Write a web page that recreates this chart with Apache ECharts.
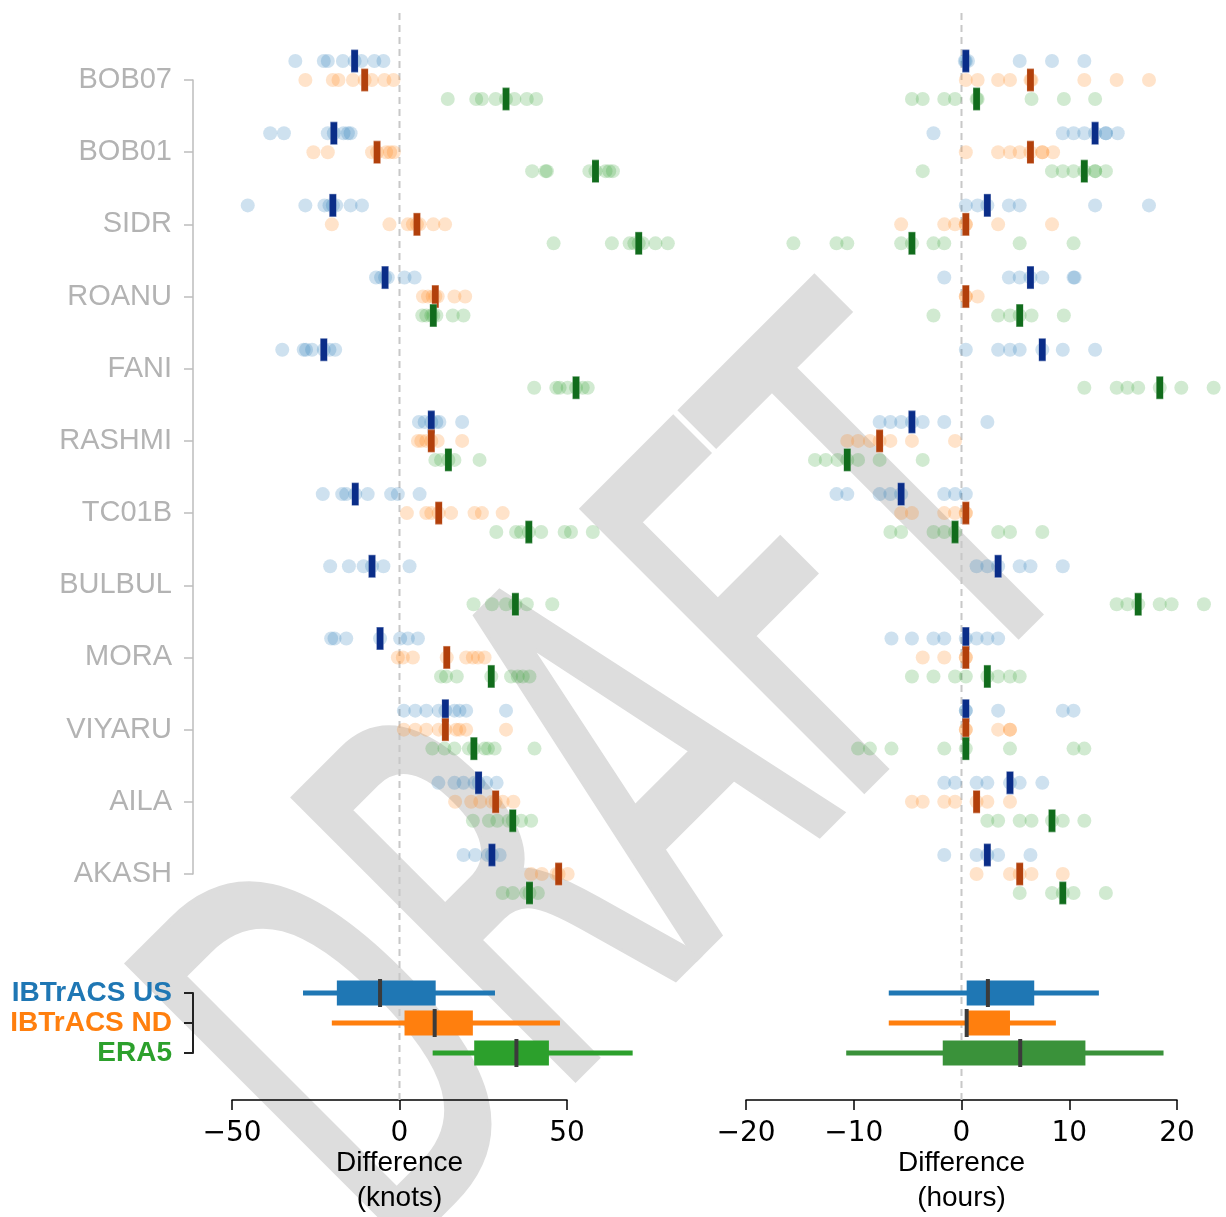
<!DOCTYPE html>
<html>
<head>
<meta charset="utf-8">
<script src="https://cdn.jsdelivr.net/npm/echarts@6/dist/echarts.min.js"></script>
<style>
  html, body { margin: 0; padding: 0; background: #ffffff; }
  #chart { width: 1226px; height: 1217px; }
</style>
</head>
<body>
<div id="chart"></div>
<script>
// Storms (rows, top to bottom) and data sources
const storms = ['BOB07', 'BOB01', 'SIDR', 'ROANU', 'FANI', 'RASHMI', 'TC01B', 'BULBUL', 'MORA', 'VIYARU', 'AILA', 'AKASH'];
const sources = ['IBTrACS US', 'IBTrACS ND', 'ERA5'];

// Intensity difference (knots), one list per storm
const windUS = [
  [-31.1, -22.6, -21.4, -16.9, -13.4, -11.4, -7.5, -4.8],
  [-38.6, -34.5, -21.4, -19.6, -16.7, -15.4, -14.6],
  [-45.3, -28.1, -22.4, -20.9, -19.9, -18.9, -14.6, -11.2],
  [-7.0, -5.5, -4.3, -3.5, 1.5, 4.5],
  [-35.0, -28.6, -27.9, -26.1, -22.6, -20.9, -19.2],
  [5.8, 7.5, 9.5, 11.0, 11.9, 18.7],
  [-22.9, -17.1, -15.9, -13.2, -9.5, -2.5, -0.5, 6.0],
  [-20.7, -15.1, -10.7, -8.2, -4.8, 3.0],
  [-20.4, -19.4, -15.9, -5.8, 0.2, 2.5, 5.5],
  [1.3, 4.7, 8.0, 11.7, 13.7, 16.4, 17.9, 19.9, 31.8],
  [11.6, 16.4, 19.1, 22.4, 23.6, 25.9, 29.0],
  [19.1, 22.6, 26.4, 27.6, 29.9]
];
const windND = [
  [-28.1, -19.9, -18.2, -13.9, -10.4, -8.3, -4.5, -1.8],
  [-25.7, -21.4, -8.2, -6.7, -4.0, -2.8, -1.7],
  [-20.2, -3.0, 2.5, 4.0, 5.2, 6.0, 10.1, 13.6],
  [7.0, 8.5, 9.9, 10.7, 11.4, 16.4, 19.6],
  [],
  [5.5, 6.5, 8.0, 9.5, 11.4, 18.7],
  [2.2, 8.0, 9.5, 11.7, 15.4, 22.4, 24.6, 30.8],
  [],
  [-0.5, 1.0, 4.0, 14.1, 19.9, 21.9, 23.4, 25.4],
  [1.3, 4.7, 8.0, 11.7, 13.7, 16.9, 17.9, 19.9, 31.8],
  [16.6, 21.4, 24.1, 27.6, 28.7, 30.8, 34.0],
  [39.3, 42.5, 46.8, 47.5, 50.2]
];
const windERA5 = [
  [14.4, 22.9, 24.6, 28.7, 31.8, 34.3, 38.0, 40.8],
  [39.6, 43.6, 44.0, 56.7, 58.5, 61.5, 62.6, 63.7],
  [46.0, 63.4, 68.7, 70.1, 71.4, 72.6, 76.4, 80.1],
  [6.8, 8.0, 9.5, 10.1, 11.0, 15.9, 19.1],
  [40.2, 46.8, 47.8, 50.2, 52.7, 54.7, 56.2],
  [10.7, 12.4, 14.6, 16.4, 23.9],
  [28.9, 34.8, 36.3, 38.6, 42.3, 49.3, 51.2, 57.7],
  [22.1, 27.6, 31.8, 34.6, 38.0, 45.6],
  [12.4, 13.9, 17.1, 27.4, 33.3, 35.3, 36.8, 38.8],
  [9.8, 13.4, 16.4, 20.7, 22.2, 25.4, 26.4, 28.4, 40.3],
  [21.9, 26.7, 29.2, 32.6, 33.8, 36.3, 39.3],
  [30.8, 33.8, 37.8, 38.8, 41.3]
];
const windMedUS = [-13.4, -19.6, -19.9, -4.3, -22.6, 9.5, -13.2, -8.2, -5.8, 13.7, 23.6, 27.6];
const windMedND = [-10.4, -6.7, 5.2, 10.7, null, 9.5, 11.7, null, 14.1, 13.7, 28.7, 47.5];
const windMedERA5 = [31.8, 58.5, 71.4, 10.1, 52.7, 14.6, 38.6, 34.6, 27.4, 22.2, 33.8, 38.8];

// Timing difference (hours), one list per storm
const timeUS = [
  [0.3, 0.4, 0.6, 5.4, 8.4, 11.4],
  [-2.6, 9.4, 10.4, 11.4, 12.4, 13.4, 13.4, 14.5],
  [0.4, 1.5, 2.4, 4.4, 5.4, 12.4, 17.4],
  [-1.6, 4.4, 5.4, 6.4, 7.5, 10.4, 10.5],
  [0.4, 3.4, 4.5, 5.4, 7.5, 9.4, 12.4],
  [-7.6, -6.6, -5.6, -4.6, -3.6, -1.6, 2.4],
  [-11.6, -10.6, -7.6, -6.6, -5.6, -1.6, -0.6, 0.4],
  [1.4, 2.4, 3.4, 5.4, 6.4, 9.4],
  [-6.5, -4.6, -2.6, -1.6, 0.4, 1.4, 2.4, 3.4],
  [0.4, 0.4, 3.4, 9.4, 10.4],
  [-1.6, -0.6, 1.4, 2.4, 4.5, 5.4, 7.5],
  [-1.6, 1.4, 2.4, 3.4, 6.4]
];
const timeND = [
  [0.4, 1.5, 3.4, 4.5, 6.4, 6.5, 11.4, 14.4, 17.4],
  [0.4, 3.4, 4.5, 5.4, 6.4, 7.5, 7.5, 8.5],
  [-5.6, -1.6, -0.6, 0.4, 0.4, 3.4, 8.4],
  [0.4, 0.4, 1.5],
  [],
  [-10.6, -9.6, -8.5, -7.6, -6.6, -4.6, -0.6],
  [-5.6, -4.6, -1.6, -0.6, 0.4, 0.4],
  [],
  [-3.6, -1.6, 0.4, 0.4],
  [0.4, 0.4, 3.4, 4.5, 4.5],
  [-4.6, -3.6, -1.6, -0.6, 1.4, 2.4, 4.5],
  [1.4, 4.5, 5.4, 6.5, 9.4]
];
const timeERA5 = [
  [-4.6, -3.6, -1.6, -0.6, 1.4, 1.5, 6.5, 9.5, 12.4],
  [-3.6, 8.4, 9.4, 10.4, 11.4, 12.4, 12.4, 13.4],
  [-15.6, -11.6, -10.6, -5.6, -4.6, -2.6, -1.6, 5.4, 10.4],
  [-2.6, 3.4, 4.5, 5.4, 6.5, 9.5],
  [11.4, 14.4, 15.4, 16.4, 18.4, 20.4, 23.4],
  [-13.6, -12.6, -11.5, -10.6, -9.6, -7.6, -3.6],
  [-6.6, -5.6, -2.6, -1.6, -0.6, 3.4, 4.5, 7.5],
  [14.4, 15.4, 16.4, 18.4, 19.5, 22.5],
  [-4.6, -2.6, -0.6, 0.4, 2.4, 3.4, 4.5, 5.4],
  [-9.6, -8.5, -6.5, -1.6, 0.4, 4.5, 10.4, 11.4],
  [2.4, 3.4, 5.4, 6.5, 8.4, 9.4, 11.4],
  [5.4, 8.4, 9.4, 10.4, 13.4]
];
const timeMedUS = [0.4, 12.4, 2.4, 6.4, 7.5, -4.6, -5.6, 3.4, 0.4, 0.4, 4.5, 2.4];
const timeMedND = [6.4, 6.4, 0.4, 0.4, null, -7.6, 0.4, null, 0.4, 0.4, 1.4, 5.4];
const timeMedERA5 = [1.4, 11.4, -4.6, 5.4, 18.4, -10.6, -0.6, 16.4, 2.4, 0.4, 8.4, 9.4];

// Summary boxes: [whisker low, q1, median, q3, whisker high]
const windBoxUS = [-28.8, -18.7, -5.8, 10.8, 28.5];
const windBoxND = [-20.2, 1.5, 10.5, 21.9, 47.9];
const windBoxERA5 = [9.9, 22.3, 34.9, 44.6, 69.6];
const timeBoxUS = [-6.75, 0.48, 2.45, 6.75, 12.75];
const timeBoxND = [-6.75, 0.48, 0.48, 4.5, 8.76];
const timeBoxERA5 = [-10.7, -1.74, 5.45, 11.5, 18.75];

// Axis ticks
const windTicks = [-50, 0, 50];
const timeTicks = [-20, -10, 0, 10, 20];

// ---- styling ----
const dotColors = ['#1f77b4', '#ff7f0e', '#2ca02c'];
const medColors = ['#0a2d88', '#b2400b', '#116c1c'];
const boxColorsLeft = ['#1f77b4', '#ff7f0e', '#2ca02c'];
const boxColorsRight = ['#1f77b4', '#ff7f0e', '#3a923a'];
const rowOffsets = [-0.263, 0, 0.263];
const SANS = '"Liberation Sans", Arial, sans-serif';
const DEJAVU = '"DejaVu Sans", sans-serif';

function minusFmt(v) { return v < 0 ? '\u2212' + Math.abs(v) : String(v); }

function dots(lists, k) {
  const out = [];
  lists.forEach((vals, i) => vals.forEach(v => out.push([v, i + rowOffsets[k]])));
  return out;
}
function meds(arr, k) {
  const out = [];
  arr.forEach((v, i) => { if (v !== null) out.push([v, i + rowOffsets[k]]); });
  return out;
}

function stripSeries(gridIdx, lists, medArr) {
  const out = [];
  lists.forEach((l, k) => {
    out.push({
      type: 'scatter', xAxisIndex: gridIdx, yAxisIndex: gridIdx, clip: false, silent: true,
      symbol: 'circle', symbolSize: 14, z: 3,
      itemStyle: { color: dotColors[k], opacity: 0.22 },
      data: dots(l, k)
    });
  });
  medArr.forEach((m, k) => {
    out.push({
      type: 'scatter', xAxisIndex: gridIdx, yAxisIndex: gridIdx, clip: false, silent: true,
      symbol: 'rect', symbolSize: [7, 23], z: 5,
      itemStyle: { color: medColors[k], opacity: 1, borderColor: 'rgba(255,255,255,0.35)', borderWidth: 0.8 },
      data: meds(m, k)
    });
  });
  return out;
}

function boxSeries(gridIdx, boxes, colors) {
  return {
    type: 'custom', xAxisIndex: gridIdx, yAxisIndex: gridIdx, clip: false, silent: true, z: 4,
    data: boxes.map((b, r) => [r].concat(b)),
    renderItem: function (params, api) {
      const r = api.value(0);
      const y = api.coord([0, r])[1];
      const xlo = api.coord([api.value(1), r])[0];
      const xq1 = api.coord([api.value(2), r])[0];
      const xmd = api.coord([api.value(3), r])[0];
      const xq3 = api.coord([api.value(4), r])[0];
      const xhi = api.coord([api.value(5), r])[0];
      const c = colors[params.dataIndex];
      return {
        type: 'group',
        children: [
          { type: 'line', shape: { x1: xlo, y1: y, x2: xhi, y2: y }, style: { stroke: c, lineWidth: 5 } },
          { type: 'rect', shape: { x: xq1, y: y - 12.5, width: xq3 - xq1, height: 25 }, style: { fill: c } },
          { type: 'line', shape: { x1: xmd, y1: y - 14, x2: xmd, y2: y + 14 }, style: { stroke: '#3b3b3b', lineWidth: 4 } }
        ]
      };
    }
  };
}

function zeroLine(gridIdx) {
  return {
    type: 'line', xAxisIndex: gridIdx, yAxisIndex: gridIdx, silent: true, z: 1,
    symbol: 'none', data: [[0, 0], [0, 1]],
    lineStyle: { color: '#c8c8c8', width: 2, type: [7, 5] }
  };
}

const hiddenX = (min, max) => ({ type: 'value', min: min, max: max, show: false });

function bottomAxis(gridIdx, ticks, step, title) {
  return {
    gridIndex: gridIdx, type: 'value', min: ticks[0], max: ticks[ticks.length - 1], interval: step,
    axisLine: { show: true, onZero: false, lineStyle: { color: '#000', width: 1.5 } },
    axisTick: { show: true, length: 10, lineStyle: { color: '#000', width: 1.5 } },
    axisLabel: { formatter: minusFmt, color: '#000', fontSize: 28, fontFamily: DEJAVU, margin: 20 },
    splitLine: { show: false },
    name: title, nameLocation: 'middle', nameGap: 46, nameMoveOverlap: false,
    nameTextStyle: { color: '#000', fontSize: 28, fontFamily: SANS, lineHeight: 35 }
  };
}

function panelGrid(left, top, width, height) {
  return { left: left, top: top, width: width, height: height, containLabel: false, outerBoundsMode: 'none' };
}

const chart = echarts.init(document.getElementById('chart'), null, { renderer: 'canvas' });
chart.setOption({
  animation: false,
  backgroundColor: '#ffffff',
  grid: [
    panelGrid(232, 80, 335, 794),   // 0 knots strips
    panelGrid(746, 80, 431, 794),   // 1 hours strips
    panelGrid(232, 993, 335, 60),   // 2 knots summary
    panelGrid(746, 993, 431, 60),   // 3 hours summary
    panelGrid(232, 10, 335, 1090),  // 4 knots axis frame
    panelGrid(746, 10, 431, 1090)   // 5 hours axis frame
  ],
  xAxis: [
    Object.assign(hiddenX(-50, 50), { gridIndex: 0 }),
    Object.assign(hiddenX(-20, 20), { gridIndex: 1 }),
    Object.assign(hiddenX(-50, 50), { gridIndex: 2 }),
    Object.assign(hiddenX(-20, 20), { gridIndex: 3 }),
    bottomAxis(4, windTicks, 50, 'Difference\n(knots)'),
    bottomAxis(5, timeTicks, 10, 'Difference\n(hours)')
  ],
  yAxis: [
    {
      gridIndex: 0, type: 'value', min: 0, max: storms.length - 1, interval: 1, inverse: true, offset: 39,
      axisLine: { show: true, onZero: false, lineStyle: { color: '#bdbdbd', width: 1.5 } },
      axisTick: { show: true, length: 9, lineStyle: { color: '#bdbdbd', width: 1.5 } },
      axisLabel: { formatter: v => storms[v] || '', color: '#b3b3b3', fontSize: 29, fontFamily: SANS, margin: 21 },
      splitLine: { show: false }
    },
    { gridIndex: 1, type: 'value', min: 0, max: storms.length - 1, inverse: true, show: false },
    {
      gridIndex: 2, type: 'value', min: 0, max: sources.length - 1, interval: 1, inverse: true, offset: 39,
      axisLine: { show: true, onZero: false, lineStyle: { color: '#222', width: 2 } },
      axisTick: { show: true, length: 9, lineStyle: { color: '#222', width: 2 } },
      axisLabel: {
        formatter: v => sources[v] || '',
        color: (v) => dotColors[Number(v)] || '#000',
        fontSize: 28, fontWeight: 'bold', fontFamily: SANS, margin: 21
      },
      splitLine: { show: false }
    },
    { gridIndex: 3, type: 'value', min: 0, max: sources.length - 1, inverse: true, show: false },
    { gridIndex: 4, type: 'value', min: 0, max: 1, show: false },
    { gridIndex: 5, type: 'value', min: 0, max: 1, show: false }
  ],
  graphic: [
    {
      type: 'text', z: -100, silent: true,
      x: 641, y: 812, rotation: Math.PI / 4, scaleX: 0.565, scaleY: 1,
      style: {
        text: 'DRAFT', font: 'normal 540px "DejaVu Sans"',
        fill: '#dddddd', stroke: '#dddddd', lineWidth: 10, lineJoin: 'round',
        align: 'center', verticalAlign: 'middle'
      }
    }
  ],
  series: [
    zeroLine(4),
    zeroLine(5)
  ].concat(
    stripSeries(0, [windUS, windND, windERA5], [windMedUS, windMedND, windMedERA5]),
    stripSeries(1, [timeUS, timeND, timeERA5], [timeMedUS, timeMedND, timeMedERA5]),
    [boxSeries(2, [windBoxUS, windBoxND, windBoxERA5], boxColorsLeft),
     boxSeries(3, [timeBoxUS, timeBoxND, timeBoxERA5], boxColorsRight)]
  )
});
</script>
</body>
</html>
